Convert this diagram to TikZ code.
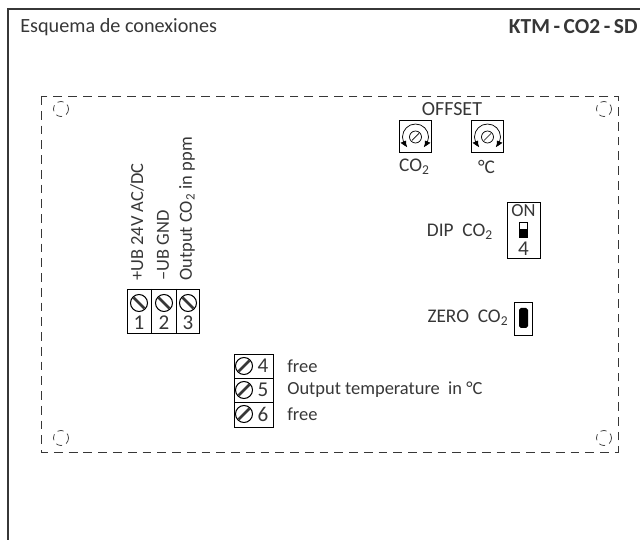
\documentclass[tikz,border=0pt]{standalone}
\usepackage{fontspec}
\setmainfont{Carlito}
\usetikzlibrary{arrows.meta,bending,calc}
\definecolor{inkgray}{RGB}{55,55,55}
\tikzset{
  lbl/.style={inner sep=0pt,text=inkgray,font=\fontsize{10.5}{12}\selectfont},
  num/.style={inner sep=0pt,text=inkgray,font=\fontsize{12}{14}\selectfont},
  hole/.style={draw=inkgray,dash pattern=on 3.5pt off 2.5pt,line width=0.4pt},
  box/.style={draw=black,line width=0.55pt},
  slot/.style={line width=1.5pt,inkgray}
}
\newcommand{\cotwo}{CO\textsubscript{2}}
% one screw of a terminal
\newcommand{\screw}[3]{
  \draw[line width=0.6pt,black] (#1,#2) circle (8.5);
  \draw[slot] ($(#1,#2)+(#3*5.5,-5.5)$) -- ($(#1,#2)+(-#3*5.5,5.5)$);
}
\begin{document}
\begin{tikzpicture}[x=0.02cm,y=-0.02cm]
\useasboundingbox (0,0) rectangle (640,540);
% Draw the outer frame
  \draw[line width=0.6pt,inkgray] (640,9) -- (8,9) -- (8,540);
  \node[lbl,anchor=west,font=\fontsize{11.5}{13}\selectfont] (title) at (20,27) {Esquema de conexiones};
  \node[lbl,anchor=east,font=\bfseries\fontsize{12.2}{14}\selectfont] (model) at (638,27) {KTM\,-\,CO2\,-\,SD};

% Draw the dashed housing and the holes
  \draw[line width=0.5pt,dash pattern=on 5pt off 3.4pt,inkgray] (41,96) rectangle (618,452);
  \foreach \x/\y in {61/109,604/109,61/438,604/438}
    \draw[hole] (\x,\y) circle (7.5);

% Draw the offset knobs
  \node[lbl,font=\fontsize{11.4}{13}\selectfont] (offset) at (452,109) {OFFSET};
  \foreach \x/\name/\txt in {415.5/knobco/\cotwo,487.5/knobtemp/°C}{
    \node[box,minimum size=0.65cm,inner sep=0pt] (\name) at (\x,136.5) {};
    \draw[line width=0.4pt,black] (\x,137) circle (6);
    \draw[line width=0.4pt,black] (\x-3.5,140.5) -- (\x+3.5,133.5);
    \draw[line width=0.4pt,black,-{Latex[length=4pt,width=3.5pt,bend]}] (\x,124) arc (-90:-232:13);
    \draw[line width=0.4pt,black,-{Latex[length=4pt,width=3.5pt,bend]}] (\x,124) arc (-90:52:13);
    \node[lbl,font=\fontsize{11}{13}\selectfont] at (\x-1,167) {\txt};
  }

% Draw the dip switch
  \node[lbl,font=\fontsize{11}{13}\selectfont] (dip) at (460,232) {DIP\ \ \cotwo};
  \node[box,minimum width=0.66cm,minimum height=1.12cm,inner sep=0pt] (dipbox) at (523.5,230) {};
  \node[lbl] at (523.5,211) {ON};
  \node[num] at (523.5,249) {4};
  \draw[line width=0.4pt,fill=white] (519.5,222) rectangle (527,237);
  \fill[black] (519.5,229) rectangle (527,237);

% Draw the zero button
  \node[lbl,font=\fontsize{11}{13}\selectfont] (zero) at (468,318) {ZERO\ \ \cotwo};
  \node[box,minimum width=0.36cm,minimum height=0.66cm,inner sep=0pt] (zerobox) at (523,318.5) {};
  \fill[black,rounded corners=1pt] (519,308) rectangle (528,328);

% Draw the upper terminals
  \draw[box] (127,289) rectangle (199,333);
  \draw[box] (151,289) -- (151,333);
  \draw[box] (176,289) -- (176,333);
  \foreach \x/\n in {139/1,164/2,188/3}{
    \screw{\x}{303}{-1}
    \node[num] at (\x,323) {\n};
  }
  \node[lbl,rotate=90,anchor=west] at (137,281) {+UB 24V AC/DC};
  \node[lbl,rotate=90,anchor=west] at (163,281) {--UB GND};
  \node[lbl,rotate=90,anchor=west] at (187,281) {Output \cotwo\ in ppm};

% Draw the lower terminals
  \draw[box] (234,354) rectangle (273,427);
  \draw[box] (234,378) -- (273,378);
  \draw[box] (234,402) -- (273,402);
  \foreach \y/\n/\txt in {366/4/free,390/5/Output temperature\ \ in °C,414/6/free}{
    \screw{244}{\y}{1}
    \node[num] at (263,\y) {\n};
    \node[lbl,anchor=west] at (287,\y) {\txt};
  }
\end{tikzpicture}
\end{document}
